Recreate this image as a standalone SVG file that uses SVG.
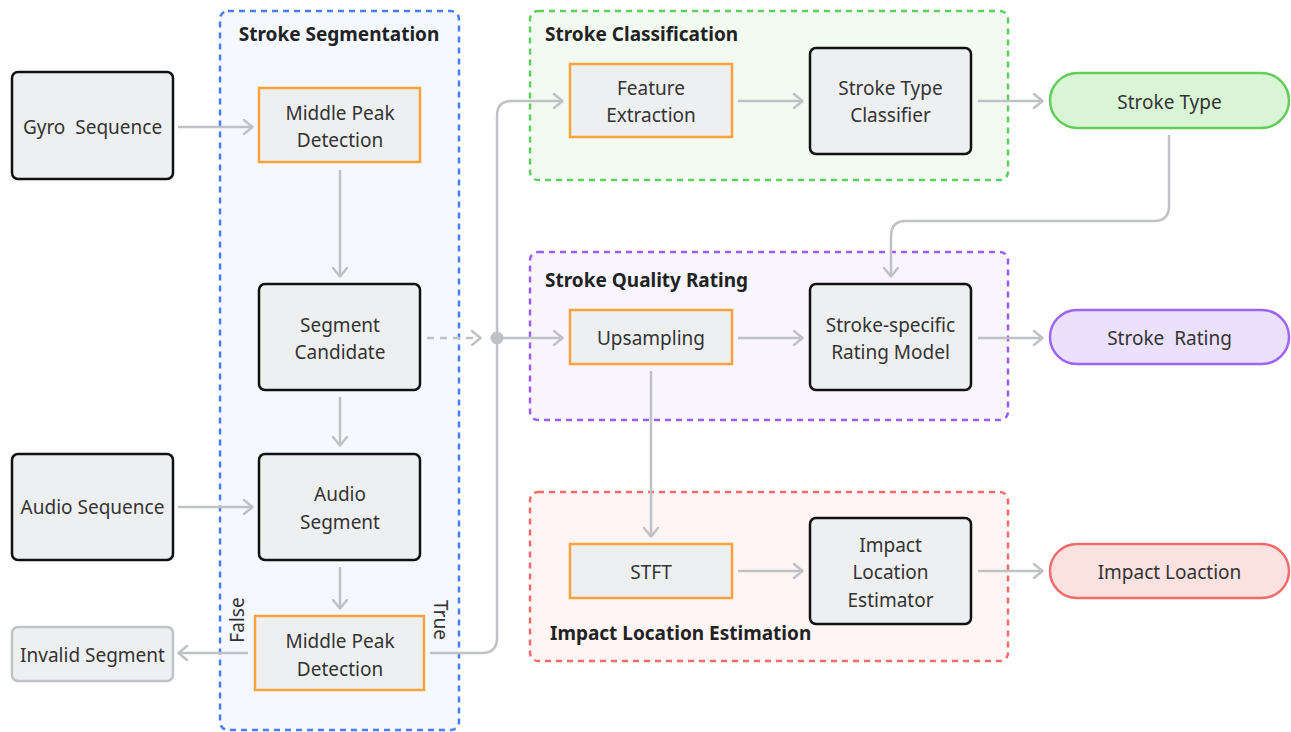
<svg xmlns="http://www.w3.org/2000/svg" width="1291" height="732" viewBox="0 0 1291 732">
<defs>
<marker id="arr" viewBox="0 0 12 16" refX="11" refY="8" markerWidth="12" markerHeight="16" markerUnits="userSpaceOnUse" orient="auto">
<path d="M2,1 L10.5,8 L2,15" fill="none" stroke="#c0c1c5" stroke-width="2.5" stroke-linecap="round" stroke-linejoin="round"/>
</marker>
<style>
text{font-family:"Noto Sans","Open Sans","Liberation Sans",sans-serif;font-size:19px;fill:#333;white-space:pre;}
.t{text-anchor:middle;}
.title{font-weight:bold;fill:#222;}
.blk{fill:#eeeff1;stroke:#111;stroke-width:2.5;}
.org{fill:#eeeff1;stroke:#f8a33b;stroke-width:2.5;}
.inv{fill:#eeeff1;stroke:#c0c2c6;stroke-width:2.5;}
.c{fill:none;stroke:#c0c1c5;stroke-width:2.5;}
.grp{stroke-width:2.5;stroke-dasharray:6 5;}
</style>
</defs>
<rect width="1291" height="732" fill="#fff"/>

<g id="g-seg"><rect x="220" y="11" width="239" height="719" rx="8" fill="#f5f8fe" stroke="#4a7cf6" class="grp"/><text x="339" y="41" class="t title">Stroke Segmentation</text></g>
<g id="g-cls"><rect x="530" y="11" width="478" height="169" rx="8" fill="#f3faf1" stroke="#5ccf5c" class="grp"/><text x="545" y="41" class="title">Stroke Classification</text></g>
<g id="g-qr"><rect x="530" y="252" width="478" height="168" rx="8" fill="#f8f5fe" stroke="#9a5cf3" class="grp"/><text x="545" y="287" class="title">Stroke Quality Rating</text></g>
<g id="g-ile"><rect x="530" y="492" width="478" height="169" rx="8" fill="#fef5f4" stroke="#f36b6b" class="grp"/><text x="550" y="640" class="title">Impact Location Estimation</text></g>

<g id="connectors">
<path class="c" d="M178,127 H253" marker-end="url(#arr)"/>
<path class="c" d="M340,170 V277" marker-end="url(#arr)"/>
<path class="c" d="M340,397 V446" marker-end="url(#arr)"/>
<path class="c" d="M178,507 H253" marker-end="url(#arr)"/>
<path class="c" d="M340,567 V609" marker-end="url(#arr)"/>
<path class="c" d="M248,653 H178" marker-end="url(#arr)"/>
<path class="c" d="M430,653 H482 Q497,653 497,638 V116 Q497,101 512,101 H563" marker-end="url(#arr)"/>
<path class="c" d="M427,338 H481" stroke-dasharray="7 6" marker-end="url(#arr)"/>
<circle cx="497" cy="338" r="6.5" fill="#c0c1c5"/>
<path class="c" d="M497,338 H563" marker-end="url(#arr)"/>
<path class="c" d="M738,101 H803" marker-end="url(#arr)"/>
<path class="c" d="M978,101 H1043" marker-end="url(#arr)"/>
<path class="c" d="M1169,135 V206 Q1169,221 1154,221 H906 Q891,221 891,236 V277" marker-end="url(#arr)"/>
<path class="c" d="M738,338 H803" marker-end="url(#arr)"/>
<path class="c" d="M978,338 H1043" marker-end="url(#arr)"/>
<path class="c" d="M651,371 V537" marker-end="url(#arr)"/>
<path class="c" d="M738,571 H803" marker-end="url(#arr)"/>
<path class="c" d="M978,571 H1043" marker-end="url(#arr)"/>
<text transform="translate(244,620) rotate(-90)" class="t">False</text>
<text transform="translate(434,620) rotate(90)" class="t">True</text>
</g>

<g id="gyro"><rect x="12" y="72" width="161" height="107" rx="6" class="blk"/><text x="92.5" y="134" class="t" xml:space="preserve">Gyro  Sequence</text></g>
<g id="mpd1"><rect x="259" y="88" width="161" height="74" class="org"/><text x="340" y="120" class="t">Middle Peak</text><text x="340" y="147" class="t">Detection</text></g>
<g id="segcand"><rect x="259" y="284" width="161" height="106" rx="6" class="blk"/><text x="340" y="332" class="t">Segment</text><text x="340" y="359" class="t">Candidate</text></g>
<g id="audioseq"><rect x="12" y="454" width="161" height="106" rx="6" class="blk"/><text x="92.5" y="514" class="t">Audio Sequence</text></g>
<g id="audioseg"><rect x="259" y="454" width="161" height="106" rx="6" class="blk"/><text x="340" y="501" class="t">Audio</text><text x="340" y="529" class="t">Segment</text></g>
<g id="mpd2"><rect x="255" y="616" width="169" height="74" class="org"/><text x="340" y="648" class="t">Middle Peak</text><text x="340" y="676" class="t">Detection</text></g>
<g id="invalid"><rect x="12" y="627" width="161" height="54" rx="6" class="inv"/><text x="92.5" y="662" class="t">Invalid Segment</text></g>

<g id="feat"><rect x="570" y="64" width="162" height="73" class="org"/><text x="651" y="95" class="t">Feature</text><text x="651" y="122" class="t">Extraction</text></g>
<g id="stc"><rect x="810" y="48" width="161" height="106" rx="6" class="blk"/><text x="890.5" y="95" class="t">Stroke Type</text><text x="890.5" y="122" class="t">Classifier</text></g>
<g id="stype"><rect x="1050" y="73" width="239" height="55" rx="27.5" fill="#daf5d6" stroke="#62cd5b" stroke-width="2.5"/><text x="1169.5" y="109" class="t">Stroke Type</text></g>

<g id="ups"><rect x="570" y="310" width="162" height="54" class="org"/><text x="651" y="345" class="t">Upsampling</text></g>
<g id="srm"><rect x="810" y="284" width="161" height="106" rx="6" class="blk"/><text x="890.5" y="332" class="t">Stroke-specific</text><text x="890.5" y="359" class="t">Rating Model</text></g>
<g id="srating"><rect x="1050" y="310" width="239" height="54" rx="27" fill="#ebe1fd" stroke="#9d64f5" stroke-width="2.5"/><text x="1169.5" y="345" class="t" xml:space="preserve">Stroke  Rating</text></g>

<g id="stft"><rect x="570" y="544" width="162" height="54" class="org"/><text x="651" y="579" class="t">STFT</text></g>
<g id="ile"><rect x="810" y="518" width="161" height="106" rx="6" class="blk"/><text x="890.5" y="552" class="t">Impact</text><text x="890.5" y="579" class="t">Location</text><text x="890.5" y="607" class="t">Estimator</text></g>
<g id="iloc"><rect x="1050" y="544" width="239" height="54" rx="27" fill="#fbe1e0" stroke="#ef6c6c" stroke-width="2.5"/><text x="1169.5" y="579" class="t">Impact Loaction</text></g>
</svg>
